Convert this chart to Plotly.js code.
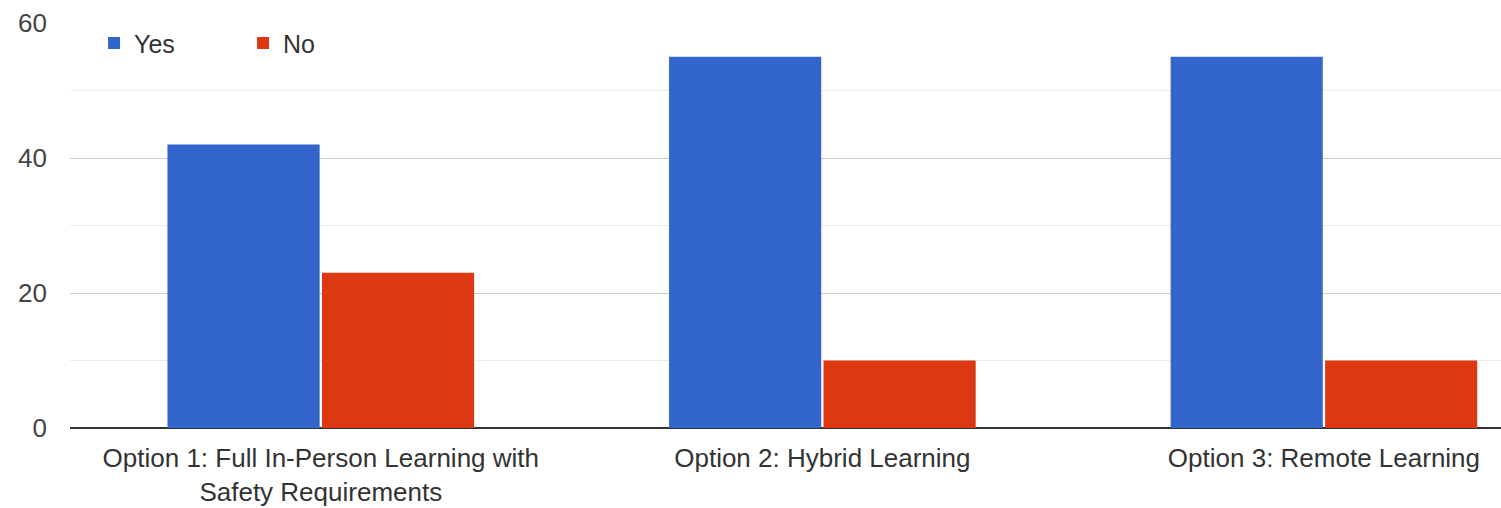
<!DOCTYPE html>
<html>
<head>
<meta charset="utf-8">
<script src="https://cdn.plot.ly/plotly-3.0.1.min.js"></script>
<style>
  html, body { margin: 0; padding: 0; background: #fff; overflow: hidden; }
  #chart { width: 1501px; height: 508px; }
</style>
</head>
<body>
<div id="chart"></div>
<script>
const categories = [
  "Option 1: Full In-Person Learning with<br>Safety Requirements",
  "Option 2: Hybrid Learning",
  "Option 3: Remote Learning"
];
const yesValues = [42, 55, 55];
const noValues = [23, 10, 10];
const seriesNames = ["Yes", "No"];
const yTicks = [0, 20, 40, 60];

const FONT = "Arial, 'Liberation Sans', sans-serif";

const traces = [
  {
    type: "bar", name: seriesNames[0], x: categories, y: yesValues,
    marker: { color: "#3366cc" }, hoverinfo: "x+y+name"
  },
  {
    type: "bar", name: seriesNames[1], x: categories, y: noValues,
    marker: { color: "#dc3912" }, hoverinfo: "x+y+name"
  }
];

const layout = {
  width: 1501, height: 508,
  margin: { l: 70, r: 0, t: 23, b: 80 },
  paper_bgcolor: "#ffffff", plot_bgcolor: "#ffffff",
  font: { family: FONT, size: 26, color: "#444444" },
  barmode: "group",
  bargap: 0.384,
  bargroupgap: 0.015,
  showlegend: true,
  legend: {
    orientation: "h", x: 0.0168, xanchor: "left", y: 1.007, yanchor: "top",
    font: { family: FONT, size: 25, color: "#333333" },
    bgcolor: "rgba(0,0,0,0)", entrywidth: 104, entrywidthmode: "pixels",
    traceorder: "normal"
  },
  xaxis: {
    type: "category",
    range: [-0.5, 2.353],
    showgrid: false, zeroline: false, showline: false,
    ticks: "", ticklabelstandoff: 12,
    tickfont: { family: FONT, size: 26, color: "#333333" },
    fixedrange: true
  },
  yaxis: {
    range: [0, 60], tickvals: yTicks, ticktext: yTicks.map(String),
    showgrid: true, gridcolor: "#cccccc", gridwidth: 1,
    minor: { dtick: 10, showgrid: true, gridcolor: "#ebebeb", gridwidth: 1, tick0: 0 },
    zeroline: true, zerolinecolor: "#333333", zerolinewidth: 2,
    showline: false, ticks: "", ticklabelstandoff: 22,
    tickfont: { family: FONT, size: 26, color: "#444444" },
    fixedrange: true
  }
};

Plotly.newPlot("chart", traces, layout, { displayModeBar: false, staticPlot: true });
</script>
</body>
</html>
